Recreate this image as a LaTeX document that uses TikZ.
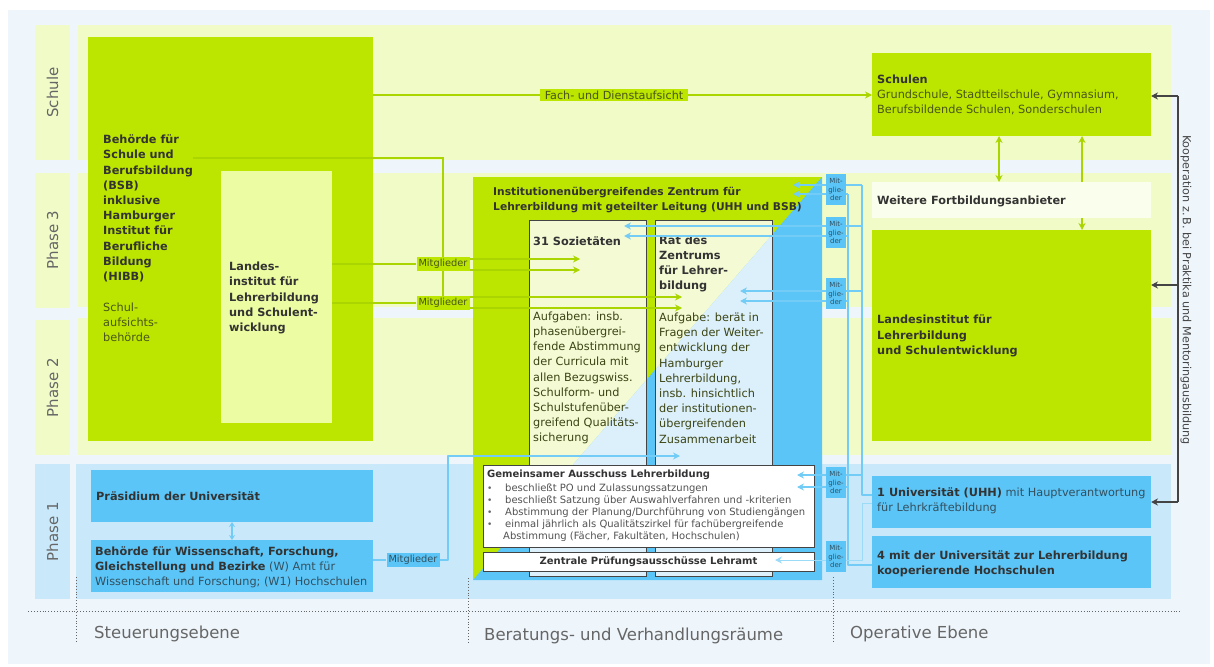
\documentclass[tikz,border=0pt]{standalone}
\usepackage{fontspec}
\setmainfont{DejaVu Sans}
\usetikzlibrary{arrows.meta}

\definecolor{hgblau}{HTML}{EEF6FC}
\definecolor{bandg}{HTML}{F0FBC8}
\definecolor{bandb}{HTML}{C9E9FB}
\definecolor{lime}{HTML}{BCE600}
\definecolor{blasslime}{HTML}{ECFCA2}
\definecolor{mblau}{HTML}{5BC5F7}
\definecolor{lblau}{HTML}{72CCF5}
\definecolor{lgruen}{HTML}{AAD500}
\definecolor{colg}{HTML}{F3FAD4}
\definecolor{colb}{HTML}{DCF0FB}
\definecolor{weissg}{HTML}{FAFEEC}
\definecolor{dunkel}{HTML}{333333}
\definecolor{grau}{HTML}{666666}
\definecolor{oliv}{HTML}{4A5518}
\definecolor{blautxt}{HTML}{34505F}
\definecolor{rand}{HTML}{444444}

\newcommand\schrift[2]{\fontsize{#1}{#2}\selectfont}

\begin{document}
\begin{tikzpicture}[x=1pt, y=-1pt,
    blk/.style={anchor=north west, inner sep=0pt, outer sep=0pt},
    txt/.style={anchor=west, align=left, inner sep=0pt, text=dunkel, font=\schrift{11.3}{15.2}},
    txtb/.style={txt, font=\schrift{11.3}{15.2}\bfseries},
    reihe/.style={rotate=90, inner sep=0pt, minimum width=135, minimum height=35, text=grau, font=\schrift{15}{18}},
    ebene/.style={anchor=west, inner sep=0pt, text=grau, font=\schrift{16.5}{20}},
    mitg/.style={fill=lime, text=oliv, inner xsep=2pt, inner ysep=2pt, font=\schrift{9.8}{11}},
    mitb/.style={fill=mblau, text=blautxt, inner xsep=2pt, inner ysep=2pt, font=\schrift{9.8}{11}},
    mgd/.style={blk, fill=mblau, minimum width=20, minimum height=31, align=center, text=blautxt, font=\schrift{7}{8.3}},
    spalte/.style={blk, draw=rand, line width=1pt, minimum width=117, minimum height=356,
        path picture={\fill[colg] (zen.north west) -- (zen.north east) -- (zen.south west) -- cycle;
                      \fill[colb] (zen.north east) -- (zen.south east) -- (zen.south west) -- cycle;}},
    gline/.style={draw=lgruen, line width=1.6pt},
    gpfeil/.style={gline, -{Stealth[length=7pt,width=7pt]}},
    gdpfeil/.style={gline, {Stealth[length=7pt,width=7pt]}-{Stealth[length=7pt,width=7pt]}},
    bline/.style={draw=lblau, line width=1.3pt},
    bpfeil/.style={bline, -{Stealth[length=7pt,width=7pt]}},
    kline/.style={draw=rand, line width=1.1pt},
    kpfeil/.style={kline, -{Stealth[length=7pt,width=7pt]}}]
    \useasboundingbox (0,0) rectangle (1214,666);

    % 背景
    \fill[hgblau] (8,10) rectangle (1210,664);
    \fill[bandg] (78,25) rectangle (1171,160);
    \fill[bandg] (78,173) rectangle (1171,307);
    \fill[bandg] (78,318) rectangle (1171,455);
    \fill[bandb] (76,464) rectangle (1171,599);

    % 見出し
    \node[reihe, fill=bandg] (rschule) at (52.5,92.5) {Schule};
    \node[reihe, fill=bandg] (rp3) at (52.5,240) {Phase 3};
    \node[reihe, fill=bandg] (rp2) at (52.5,387.5) {Phase 2};
    \node[reihe, fill=bandb] (rp1) at (52.5,531.5) {Phase 1};

    % 左側
    \node[blk, fill=lime, minimum width=285, minimum height=404] (bsb) at (88,37) {};
    \node[blk, fill=blasslime, minimum width=111, minimum height=252] (lii) at (221,171) {};
    \node[txtb] (bsbtxt) at (103,208.5) {Behörde für\\Schule und\\Berufsbildung\\(BSB)\\inklusive\\Hamburger\\Institut für\\Berufliche\\Bildung\\(HIBB)};
    \node[txt, text=oliv] (bsbsub) at (103,322.5) {Schul-\\aufsichts-\\behörde};
    \node[txtb] (liitxt) at (229,298) {Landes-\\institut für\\Lehrerbildung\\und Schulent-\\wicklung};
    \node[blk, fill=mblau, minimum width=282, minimum height=52] (praes) at (91,470) {};
    \node[blk, fill=mblau, minimum width=282, minimum height=52] (bwfgb) at (91,540) {};
    \node[txtb] (praestxt) at (96,496) {Präsidium der Universität};
    \node[txt, text=blautxt] (bwfgbtxt) at (95,567) {\textcolor{dunkel}{\bfseries Behörde für Wissenschaft, Forschung,}\\\textcolor{dunkel}{\bfseries Gleichstellung und Bezirke} (W) Amt für\\Wissenschaft und Forschung; (W1) Hochschulen};
    \draw[bline, {Stealth[length=5pt,width=6pt]}-{Stealth[length=5pt,width=6pt]}] (praes.south) -- (bwfgb.north);

    % 中央
    \node[blk, fill=lime, minimum width=349, minimum height=403,
        path picture={\fill[mblau] (path picture bounding box.north east) -- (path picture bounding box.south east) -- (path picture bounding box.south west) -- cycle;}] (zen) at (473,177) {};
    \node[txt, font=\schrift{10.7}{15}\bfseries] (zentxt) at (493,200.5) {Institutionenübergreifendes Zentrum für\\Lehrerbildung mit geteilter Leitung (UHH und BSB)};
    \node[spalte] (soz) at (529,220) {};
    \node[spalte] (rat) at (655,220) {};
    \node[txtb] (soztit) at (533,241) {31 Sozietäten};
    \node[txtb] (rattit) at (659,264) {Rat des\\Zentrums\\für Lehrer-\\bildung};
    \node[txt, text=oliv!80!black] (sozauf) at (533,378) {Aufgaben: insb.\\phasenübergrei-\\fende Abstimmung\\der Curricula mit\\allen Bezugswiss.\\Schulform- und\\Schulstufenüber-\\greifend Qualitäts-\\sicherung};
    \node[txt, text=oliv!80!black] (rataufg) at (659,378) {Aufgabe: berät in\\Fragen der Weiter-\\entwicklung der\\Hamburger\\Lehrerbildung,\\insb. hinsichtlich\\der institutionen-\\übergreifenden\\Zusammenarbeit};
    \node[blk, fill=white, draw=rand, line width=1pt, minimum width=331, minimum height=82] (ga) at (483,465) {};
    \node[blk, fill=white, draw=rand, line width=1pt, minimum width=331, minimum height=19] (zpa) at (483,552) {};
    \node[txt, font=\schrift{10}{12}\bfseries] (gatit) at (487,475) {Gemeinsamer Ausschuss Lehrerbildung};
    \node[txt, text=grau, font=\schrift{9}{12}] (gapkt) at (487,507.5) {•\\•\\•\\•};
    \node[txt, text=dunkel!85, font=\schrift{10}{12}] (galist) at (505,513) {beschließt PO und Zulassungssatzungen\\beschließt Satzung über Auswahlverfahren und -kriterien\\Abstimmung der Planung/Durchführung von Studiengängen\\einmal jährlich als Qualitätszirkel für fachübergreifende\\\hspace*{-2pt}Abstimmung (Fächer, Fakultäten, Hochschulen)};
    \node[inner sep=0pt, text=dunkel, font=\schrift{10}{12}\bfseries] (zpatxt) at (zpa.center) {Zentrale Prüfungsausschüsse Lehramt};

    % 右側
    \node[blk, fill=lime, minimum width=279, minimum height=83] (schulen) at (872,53) {};
    \node[blk, fill=lime, minimum width=279, minimum height=211] (lir) at (872,230) {};
    \draw[gdpfeil] ([xshift=70.5pt]schulen.south) -- ([xshift=70.5pt]lir.north);
    \node[blk, fill=weissg, minimum width=279, minimum height=36] (weit) at (872,182) {};
    \draw[gdpfeil] ([xshift=-12.5pt]schulen.south) -- ([xshift=-12.5pt]weit.north);
    \node[blk, fill=mblau, minimum width=279, minimum height=52] (uhh) at (872,476) {};
    \node[blk, fill=mblau, minimum width=279, minimum height=52] (hs4) at (872,536) {};
    \node[txt, text=oliv] (schulentxt) at (877,95) {\textcolor{dunkel}{\bfseries Schulen}\\Grundschule, Stadtteilschule, Gymnasium,\\Berufsbildende Schulen, Sonderschulen};
    \node[txtb] (weittxt) at (877,201) {Weitere Fortbildungsanbieter};
    \node[txtb] (lirtxt) at (877,336) {Landesinstitut für\\Lehrerbildung\\und Schulentwicklung};
    \node[txt, text=blautxt] (uhhtxt) at (877,501) {\textcolor{dunkel}{\bfseries 1 Universität (UHH)} mit Hauptverantwortung\\für Lehrkräftebildung};
    \node[txtb] (hs4txt) at (877,563.5) {4 mit der Universität zur Lehrerbildung\\kooperierende Hochschulen};

    % 緑の線を引く
    \node[mitg, font=\schrift{11.2}{13}, inner xsep=5pt] (fach) at (614,95) {Fach- und Dienstaufsicht};
    \draw[gline] (bsb.east |- fach) -- (fach);
    \draw[gpfeil] (fach) -- (schulen.west |- fach);
    \coordinate (bsbab) at (193,158);
    \coordinate (knick) at (443,158);
    \node[mitg] (mg1) at (443,264) {Mitglieder};
    \node[mitg] (mg2) at (443,303) {Mitglieder};
    \draw[gline] (bsbab) -- (knick) -- (mg1.north);
    \draw[gline] (mg1.south) -- (mg2.north);
    \draw[gline] (lii.east |- mg1) -- (mg1);
    \draw[gline] (lii.east |- mg2) -- (mg2);
    \coordinate (s1) at (580,259);
    \coordinate (s2) at (580,270);
    \coordinate (r1) at (682,297);
    \coordinate (r2) at (682,308);
    \draw[gpfeil] (mg1.east |- s1) -- (s1);
    \draw[gpfeil] (mg1.east |- s2) -- (s2);
    \draw[gpfeil] (mg2.east |- r1) -- (r1);
    \draw[gpfeil] (mg2.east |- r2) -- (r2);

    % 青い線を引く
    \node[mitb] (mgb) at (413,560) {Mitglieder};
    \draw[bline] (bwfgb.east |- mgb) -- (mgb);
    \coordinate (bk1) at (448,560);
    \coordinate (bk2) at (448,456);
    \coordinate (bz) at (680,456);
    \draw[bpfeil, line join=round] (mgb) -- (bk1) -- (bk2) -- (bz);
    \coordinate (ta) at (862,185);
    \coordinate (tb) at (848,194);
    \coordinate (ua) at (862,495);
    \coordinate (ub) at (848,565);
    \draw[bline, line join=round] (ta) -- (ua) -- (uhh.west |- ua);
    \draw[bline, line join=round] (tb) -- (ub) -- (hs4.west |- ub);
    \foreach \ya/\yb/\z [count=\i] in {185/194/793, 226/236/624, 291/301/740, 475/487/797} {
        \coordinate (za\i) at (\z,\ya);
        \coordinate (zb\i) at (\z,\yb);
        \draw[bpfeil] (ta |- za\i) -- (za\i);
        \draw[bpfeil] (tb |- zb\i) -- (zb\i);
    }
    \coordinate (la) at (862,503);
    \coordinate (lz) at (775,560);
    \draw[bpfeil, draw=lblau!70, line width=1pt, line join=round] (uhh.west |- la) -- (la) -- (la |- lz) -- (lz);
    \foreach \y [count=\i] in {174,217,278,467,541}
        \node[mgd] (mgd\i) at (826,\y) {Mit-\\glie-\\der};

    % Kooperation
    \coordinate (k1) at (1178,96);
    \coordinate (k2) at (1178,502);
    \coordinate (k3) at (1178,285);
    \draw[kline] (k1) -- (k2);
    \draw[kpfeil] (k1) -- (schulen.east |- k1);
    \draw[kpfeil] (k3) -- (lir.east |- k3);
    \draw[kpfeil] (k2) -- (uhh.east |- k2);
    \node[rotate=-90, inner sep=0pt, text=rand, font=\schrift{11.2}{13}] (koop) at (1186,290) {Kooperation z.\,B. bei Praktika und Mentoringausbildung};

    % 下の区切り
    \draw[grau, dotted, line width=0.9pt] (28,611) -- (1182,611);
    \draw[grau, dotted, line width=0.9pt] (76,577) -- (76,642);
    \draw[grau, dotted, line width=0.9pt] (468,578) -- (468,642);
    \draw[grau, dotted, line width=0.9pt] (833,577) -- (833,642);
    \node[ebene] (steuer) at (94,634) {Steuerungsebene};
    \node[ebene] (berat) at (484,636) {Beratungs- und Verhandlungsräume};
    \node[ebene] (operat) at (850,634) {Operative Ebene};
\end{tikzpicture}
\end{document}
